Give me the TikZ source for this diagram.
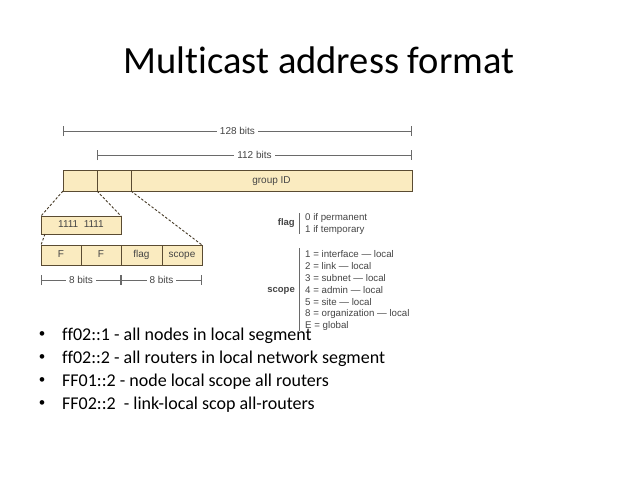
\documentclass[tikz,border=0pt]{standalone}
\usepackage{fontspec}
\setmainfont{Carlito}[Ligatures=NoCommon]
\newfontfamily\diagfont{Liberation Sans}
\newfontfamily\bulletfont{Liberation Sans}
\usetikzlibrary{arrows.meta}
\definecolor{boxfill}{HTML}{FAEBC0}
\definecolor{boxline}{HTML}{5A4B32}
\definecolor{dimgray}{HTML}{6A6A6A}
\definecolor{txtgray}{HTML}{454545}
\tikzset{
  field/.style={draw=boxline, fill=boxfill, line width=0.9pt, inner sep=0pt, outer sep=0pt,
    anchor=north west, text height=0.72em, text depth=0.2em,
    font=\diagfont\fontsize{10}{12}\selectfont, text=txtgray},
  dimline/.style={draw=dimgray, line width=0.8pt, {Bar[width=10pt]}-{Bar[width=10pt]}},
  dimlabel/.style={fill=white, inner xsep=3pt, inner ysep=1pt, font=\diagfont\fontsize{10}{12}\selectfont, text=txtgray},
  zoomline/.style={draw=boxline!80!black, line width=0.9pt, dash pattern=on 2.5pt off 1.8pt},
  legend/.style={anchor=west, inner sep=0pt, font=\diagfont\fontsize{9.7}{11}\selectfont, text=txtgray},
  legendhead/.style={anchor=east, inner sep=0pt, font=\diagfont\bfseries\fontsize{9.5}{11}\selectfont, text=txtgray},
  bulletdot/.style={anchor=base, inner sep=0pt, font=\bulletfont\fontsize{17}{20}\selectfont},
  bullettext/.style={anchor=base west, inner sep=0pt, font=\fontsize{18}{22}\selectfont},
}
\begin{document}
\begin{tikzpicture}[x=1pt,y=-1pt]
\useasboundingbox[fill=white] (0,0) rectangle (638,479);
% title
\node[anchor=base, inner sep=0pt, font=\fontsize{38.5}{44}\selectfont] (title) at (319,73) {Multicast address format};
% dimension lines
\coordinate (d128a) at (63,131);
\coordinate (d128b) at (412,131);
\coordinate (d112a) at (97,155);
\coordinate (d112b) at (412,155);
\draw[dimline] (d128a) -- node[dimlabel] (l128) {128 bits} (d128b);
\draw[dimline] (d112a) -- node[dimlabel] (l112) {112 bits} (d112b);
% top bar
\node[field, minimum width=34pt, minimum height=21pt] (b1) at (63,170) {};
\node[field, minimum width=34pt, minimum height=21pt] (b2) at (97,170) {};
\node[field, minimum width=281pt, minimum height=21pt] (b3) at (131,170) {group ID};
% 1111 1111 box
\node[field, minimum width=80pt, minimum height=18pt] (ones) at (41,216) {1111\ \ 1111};
% F F flag scope row
\node[field, minimum width=40pt, minimum height=20pt] (f1) at (41,245) {F};
\node[field, minimum width=40pt, minimum height=20pt] (f2) at (81,245) {F};
\node[field, minimum width=41pt, minimum height=20pt] (fl) at (121,245) {flag};
\node[field, minimum width=40pt, minimum height=20pt] (sc) at (162,245) {scope};
% zoom lines
\draw[zoomline] (b1.south west) -- (ones.north west);
\draw[zoomline] (b2.south west) -- (ones.north east);
\draw[zoomline] (b3.south west) -- (sc.north east);
\draw[zoomline] ([xshift=4pt]ones.south west) -- (f1.north west);
% 8 bits
\coordinate (e1) at (41,280);
\coordinate (e2) at (121,280);
\coordinate (e3) at (202,280);
\draw[dimline] (e1) -- node[dimlabel] (l8a) {8 bits} (e2);
\draw[dimline] (e2) -- node[dimlabel] (l8b) {8 bits} (e3);
% flag legend
\node[legendhead] (flaghead) at (295,223) {flag};
\coordinate (fbt) at (299,213);
\coordinate (fbb) at (299,234);
\draw[draw=dimgray, line width=0.8pt] (fbt) -- (fbb);
\node[legend] (fl0) at (305,218) {0 if permanent};
\node[legend] (fl1) at (305,230) {1 if temporary};
% scope legend
\node[legendhead] (scopehead) at (295,291) {scope};
\coordinate (sbt) at (299,248);
\coordinate (sbb) at (299,331);
\draw[draw=dimgray, line width=0.8pt] (sbt) -- (sbb);
\node[legend] (s1) at (305,254) {1 = interface — local};
\node[legend] (s2) at (305,266) {2 = link — local};
\node[legend] (s3) at (305,278) {3 = subnet — local};
\node[legend] (s4) at (305,290) {4 = admin — local};
\node[legend] (s5) at (305,302) {5 = site — local};
\node[legend] (s8) at (305,314) {8 = organization — local};
\node[legend] (sE) at (305,326) {E = global};
% bullets
\node[bulletdot] (bd1) at (42,339) {•};
\node[bullettext] (bt1) at (62,340) {ff02::1 - all nodes in local segment};
\node[bulletdot] (bd2) at (42,362) {•};
\node[bullettext] (bt2) at (62,363) {ff02::2 - all routers in local network segment};
\node[bulletdot] (bd3) at (42,385) {•};
\node[bullettext] (bt3) at (62,386) {FF01::2 - node local scope all routers};
\node[bulletdot] (bd4) at (42,408) {•};
\node[bullettext] (bt4) at (62,409) {FF02::2\ \ - link-local scop all-routers};
\end{tikzpicture}
\end{document}
